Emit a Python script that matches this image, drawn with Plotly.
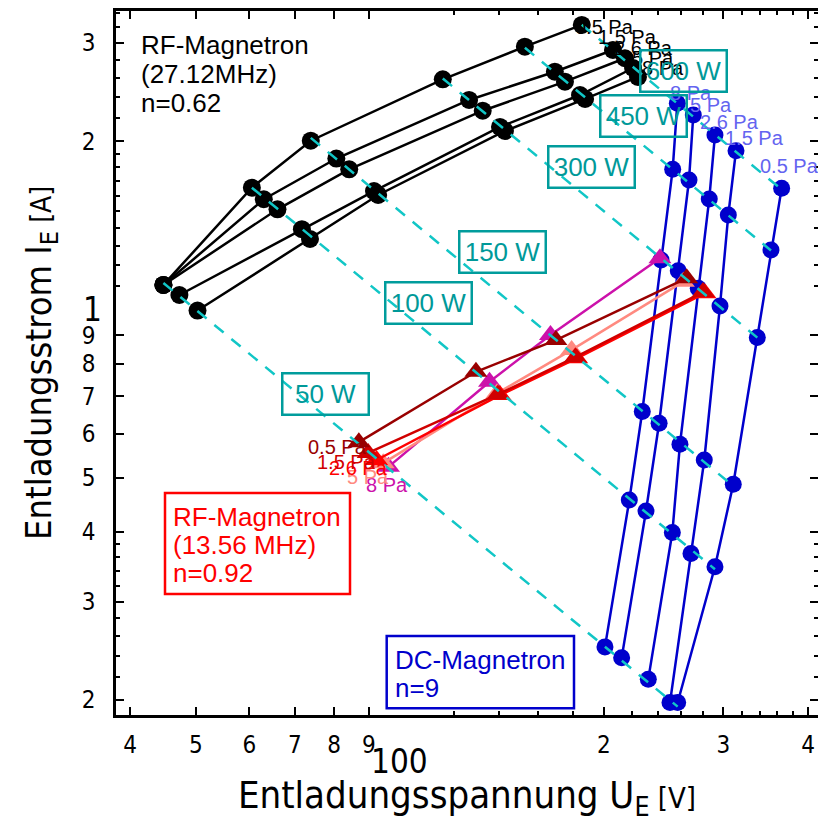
import math
import plotly.graph_objects as go

# ---------------- data ----------------
# RF-Magnetron 27.12 MHz (black circles), powers in W
P_RF27 = [50, 100, 150, 300, 450, 600]
rf27_U_05 = [44.8, 60.5, 73.9, 115.7, 152.9, 185.5]
rf27_I_05 = [1.107, 1.653, 2.006, 2.584, 2.956, 3.233]
rf27_U_15 = [44.8, 63.0, 80.6, 126.5, 169.3, 206.2]
rf27_I_15 = [1.107, 1.576, 1.864, 2.373, 2.666, 2.916]
rf27_U_26 = [44.8, 66.0, 84.2, 132.5, 175.2, 214.8]
rf27_I_26 = [1.107, 1.512, 1.783, 2.270, 2.559, 2.818]
rf27_U_5 = [47.3, 71.7, 91.6, 140.5, 184.4, 220.8]
rf27_I_5 = [1.062, 1.393, 1.630, 2.123, 2.422, 2.707]
rf27_U_8 = [50.3, 73.7, 92.9, 142.9, 187.6, 224.5]
rf27_I_8 = [0.996, 1.338, 1.604, 2.088, 2.383, 2.609]

# DC-Magnetron (blue circles)
P_DC = [50, 100, 150, 300, 450, 600]
dc_U_8 = [200.7, 218.0, 227.8, 242.8, 252.6, 256.6]
dc_I_8 = [0.249, 0.456, 0.657, 1.227, 1.783, 2.341]
dc_U_5 = [212.4, 230.7, 241.2, 257.4, 267.0, 270.9]
dc_I_5 = [0.238, 0.436, 0.626, 1.174, 1.706, 2.230]
dc_U_26 = [232.5, 252.3, 258.9, 275.5, 286.0, 291.6]
dc_I_26 = [0.218, 0.399, 0.574, 1.092, 1.578, 2.054]
dc_U_15 = [250.3, 268.8, 281.2, 296.6, 305.1, 313.2]
dc_I_15 = [0.198, 0.366, 0.538, 1.015, 1.477, 1.925]
dc_U_05 = [256.9, 291.6, 310.3, 336.7, 352.7, 365.7]
dc_I_05 = [0.198, 0.3465, 0.487, 0.891, 1.279, 1.649]

# RF-Magnetron 13.56 MHz (triangles)
P_RF13 = [50, 100, 150, 300]
rf13_U_05 = [87.0, 129.5, 169.9, 264.9]
rf13_I_05 = [0.579, 0.774, 0.882, 1.138]
rf13_U_15 = [89.8, 139.5, 181.5, 280.0]
rf13_I_15 = [0.554, 0.705, 0.822, 1.075]
rf13_U_26 = [92.4, 140.5, 182.3, 281.9]
rf13_I_26 = [0.538, 0.703, 0.818, 1.070]
rf13_U_5 = [94.5, 139.1, 179.2, 261.9]
rf13_I_5 = [0.531, 0.708, 0.847, 1.122]
rf13_U_8 = [96.2, 135.6, 166.8, 241.9]
rf13_I_8 = [0.523, 0.743, 0.901, 1.236]

# constant-power guide lines
P_lines = [50, 100, 150, 300, 450, 600]
P_line_labels = ["50 W", "100 W", "150 W", "300 W", "450 W", "600 W"]

x_tickvals = [40, 50, 60, 70, 80, 90, 200, 300, 400]
x_ticktext = ["4", "5", "6", "7", "8", "9", "2", "3", "4"]
x_minor = [120, 140, 160, 180, 220, 240, 260, 280, 320, 340, 360, 380]
y_tickvals = [0.2, 0.3, 0.4, 0.5, 0.6, 0.7, 0.8, 0.9, 2, 3]
y_ticktext = ["2", "3", "4", "5", "6", "7", "8", "9", "2", "3"]
y_minor = [0.22, 0.24, 0.26, 0.28, 0.32, 0.34, 0.36, 0.38,
           1.1, 1.2, 1.3, 1.4, 1.5, 1.6, 1.7, 1.8, 1.9,
           2.2, 2.4, 2.6, 2.8, 3.2, 3.4]

# ---------------- geometry helpers (for text placement) ----------------
W, H = 818, 822
L, R, T, B = 116, 818, 11, 715
def pxx(x):
    return (x - L) / (R - L)
def pxy(y):
    return (B - y) / (B - T)

LAB = "Liberation Sans, Arial, sans-serif"
NARROW = "Liberation Sans Narrow, DejaVu Sans Condensed, Liberation Sans, Arial, sans-serif"

fig = go.Figure()

rf27 = [("0.5 Pa", rf27_U_05, rf27_I_05), ("1.5 Pa", rf27_U_15, rf27_I_15),
        ("2.6 Pa", rf27_U_26, rf27_I_26), ("5 Pa", rf27_U_5, rf27_I_5),
        ("8 Pa", rf27_U_8, rf27_I_8)]
dc = [("8 Pa", dc_U_8, dc_I_8), ("5 Pa", dc_U_5, dc_I_5), ("2.6 Pa", dc_U_26, dc_I_26),
      ("1.5 Pa", dc_U_15, dc_I_15), ("0.5 Pa", dc_U_05, dc_I_05)]
rf13 = [("8 Pa", rf13_U_8, rf13_I_8, "#CC11AA"), ("5 Pa", rf13_U_5, rf13_I_5, "#FF8A80"),
        ("2.6 Pa", rf13_U_26, rf13_I_26, "#FF0000"), ("1.5 Pa", rf13_U_15, rf13_I_15, "#D00000"),
        ("0.5 Pa", rf13_U_05, rf13_I_05, "#990000")]

for name, U, I in rf27:
    fig.add_trace(go.Scatter(x=U, y=I, mode="lines+markers", name="RF27 " + name,
                             line=dict(color="black", width=2.5),
                             marker=dict(symbol="circle", size=18, color="black")))
for name, U, I in dc:
    fig.add_trace(go.Scatter(x=U, y=I, mode="lines+markers", name="DC " + name,
                             line=dict(color="#0000CC", width=2.5),
                             marker=dict(symbol="circle", size=17, color="#0000CC")))
for name, U, I, c in rf13:
    fig.add_trace(go.Scatter(x=U, y=I, mode="lines+markers", name="RF13 " + name,
                             line=dict(color=c, width=2.5),
                             marker=dict(symbol="triangle-up", size=20, color=c)))

# constant power guide lines: spanning the measured points of equal power
all_sets = [(P_RF27, [s[1] for s in rf27]), (P_DC, [s[1] for s in dc]), (P_RF13, [s[1] for s in rf13])]
for P in P_lines:
    us = []
    for plist, ulists in all_sets:
        if P in plist:
            k = plist.index(P)
            us += [u[k] for u in ulists]
    u0, u1 = min(us), max(us)
    fig.add_trace(go.Scatter(x=[u0, u1], y=[P / u0, P / u1], mode="lines", name=f"{P} W",
                             line=dict(color="#11C6C6", width=2.5, dash="12px,10px")))

ann = []
shapes = []

# pressure labels
rf27_off = [(-9, -2), (-17, 13), (-13, 10), (-3, 10), (2, 9)]
for (name, U, I), (dx, dy) in zip(rf27, rf27_off):
    ann.append(dict(x=math.log10(U[-1]), y=math.log10(I[-1]), text=name, showarrow=False,
                    xanchor="left", yanchor="middle", xshift=dx, yshift=dy,
                    font=dict(family=LAB, size=20, color="black")))
dc_off = [(-9, 10), (-5, 10), (-17, 13), (-13, 13), (-24, 22)]
for (name, U, I), (dx, dy) in zip(dc, dc_off):
    ann.append(dict(x=math.log10(U[-1]), y=math.log10(I[-1]), text=name, showarrow=False,
                    xanchor="left", yanchor="middle", xshift=dx, yshift=dy,
                    font=dict(family=LAB, size=20, color="#6464F0")))
rf13_off = [(22, -18), (8, -14), (13, -8), (10, -9), (10, -5)]
for (name, U, I, c), (dx, dy) in zip(rf13, rf13_off):
    ann.append(dict(x=math.log10(U[0]), y=math.log10(I[0]), text=name, showarrow=False,
                    xanchor="right", yanchor="middle", xshift=dx, yshift=dy,
                    font=dict(family=LAB, size=20, color=c)))

# power labels (boxes)
p_pos = [(325.3, 394), (428, 303.3), (502.8, 252.3), (591.2, 167.3), (643.7, 116.2), (683.8, 70.8)]
for lab, (cx, cy) in zip(P_line_labels, p_pos):
    ann.append(dict(xref="paper", yref="paper", x=pxx(cx), y=pxy(cy), text=lab, showarrow=False,
                    xanchor="center", yanchor="middle", width=84, height=39, borderpad=0,
                    bordercolor="#009C9C", borderwidth=2.5,
                    font=dict(family=LAB, size=26, color="#009999")))

# descriptive texts
def line_text(x, y, t, color):
    ann.append(dict(xref="paper", yref="paper", x=pxx(x), y=pxy(y), text=t, showarrow=False,
                    xanchor="left", yanchor="middle", font=dict(family=LAB, size=26, color=color)))

for t, y in zip(["RF-Magnetron", "(27.12MHz)", "n=0.62"], [45, 74, 103]):
    line_text(139, y, t, "black")
for t, y in zip(["RF-Magnetron", "(13.56 MHz)", "n=0.92"], [517, 545, 573]):
    line_text(171, y, t, "#FF0000")
for t, y in zip(["DC-Magnetron", "n=9"], [660, 688]):
    line_text(393, y, t, "#0000CC")

shapes.append(dict(type="rect", xref="paper", yref="paper", x0=pxx(165), x1=pxx(350),
                   y0=pxy(594), y1=pxy(493), line=dict(color="#FF0000", width=2.5)))
shapes.append(dict(type="rect", xref="paper", yref="paper", x0=pxx(386.7), x1=pxx(574),
                   y0=pxy(708.3), y1=pxy(636), line=dict(color="#0000CC", width=2.5)))

# long decade ticks (100 V and 1 A), mirrored
tl = 20
shapes += [
    dict(type="line", xref="x", yref="paper", x0=2, x1=2, y0=0, y1=tl / (B - T), line=dict(color="black", width=2)),
    dict(type="line", xref="x", yref="paper", x0=2, x1=2, y0=1 - tl / (B - T), y1=1, line=dict(color="black", width=2)),
    dict(type="line", xref="paper", yref="y", x0=0, x1=tl / (R - L), y0=0, y1=0, line=dict(color="black", width=2)),
    dict(type="line", xref="paper", yref="y", x0=1 - tl / (R - L), x1=1, y0=0, y1=0, line=dict(color="black", width=2)),
]

# decade tick labels
ann.append(dict(xref="x", yref="paper", x=2, y=pxy(761), text="100", showarrow=False,
                xanchor="center", yanchor="middle", font=dict(family=NARROW, size=33, color="black")))
ann.append(dict(xref="paper", yref="y", x=pxx(104), y=0, text="1", showarrow=False,
                xanchor="right", yanchor="middle", font=dict(family=NARROW, size=33, color="black")))

xr = [1.602 + (L - 130) / 678, 1.602 + (R - 130) / 678]
yr = [(309.6 - B) / 558.6, (309.6 - T) / 558.6]

axis_common = dict(showgrid=False, zeroline=False, showline=True, linecolor="black", linewidth=2.5,
                   mirror="ticks", ticks="inside", ticklen=8, tickwidth=2, tickcolor="black",
                   automargin=False)

fig.update_layout(
    width=W, height=H, margin=dict(l=L, r=W - R, t=T, b=H - B, autoexpand=False),
    paper_bgcolor="white", plot_bgcolor="white", showlegend=False,
    annotations=ann, shapes=shapes,
    xaxis=dict(type="log", range=xr, tickmode="array", tickvals=x_tickvals, ticktext=x_ticktext,
               tickfont=dict(family=NARROW, size=24, color="black"), ticklabelstandoff=6,
               minor=dict(tickmode="array", tickvals=x_minor, ticks="inside", ticklen=4, tickwidth=1.5,
                          tickcolor="black", showgrid=False),
               title=dict(text="Entladungsspannung U<sub>E</sub><span style='font-size:29px'> [V]</span>",
                          standoff=64, font=dict(family=NARROW, size=38, color="black")),
               **axis_common),
    yaxis=dict(type="log", range=yr, tickmode="array", tickvals=y_tickvals, ticktext=y_ticktext,
               tickfont=dict(family=NARROW, size=24, color="black"), ticklabelstandoff=13,
               minor=dict(tickmode="array", tickvals=y_minor, ticks="inside", ticklen=4, tickwidth=1.5,
                          tickcolor="black", showgrid=False),
               title=dict(text="Entladungsstrom I<sub>E</sub><span style='font-size:28px'> [A]</span>",
                          standoff=20, font=dict(family=NARROW, size=36, color="black")),
               **axis_common),
)

fig.write_html("out.html")
